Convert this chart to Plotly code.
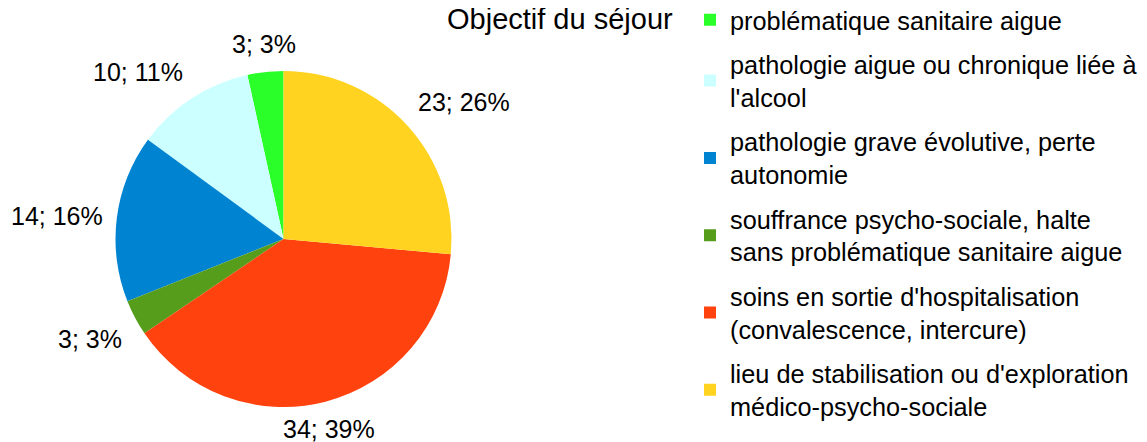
import math
import plotly.graph_objects as go

labels = [
    "problématique sanitaire aigue",
    "pathologie aigue ou chronique liée à<br>l'alcool",
    "pathologie grave évolutive, perte<br>autonomie",
    "souffrance psycho-sociale, halte<br>sans problématique sanitaire aigue",
    "soins en sortie d'hospitalisation<br>(convalescence, intercure)",
    "lieu de stabilisation ou d'exploration<br>médico-psycho-sociale",
]
values = [3, 10, 14, 3, 34, 23]
colors = ["#2aff2a", "#ccffff", "#0084d1", "#579d1c", "#ff420e", "#ffd320"]
title = "Objectif du séjour"

FONT = "Liberation Sans, Arial, sans-serif"
W, H = 1147, 442
total = sum(values)
start_rotation = -values[0] / total * 360

# pie geometry (figure pixels)
CX, CY, R = 275.5, 231.0, 168.0
dom_x = [(CX - R - 107.5) / W, (CX + R + 107.5) / W]
dom_y = [1 - (CY + R) / H, 1 - (CY - R) / H]

fig = go.Figure()
fig.add_trace(go.Pie(
    labels=labels,
    values=values,
    sort=False,
    direction="counterclockwise",
    rotation=start_rotation,
    marker=dict(colors=colors, line=dict(width=0)),
    textinfo="none",
    domain=dict(x=dom_x, y=dom_y),
    hoverinfo="label+value+percent",
    showlegend=False,
))

# legend entries (one per category, same colours as the slices)
for i, (lab, col) in enumerate(zip(labels, colors)):
    fig.add_trace(go.Scatter(
        x=[None], y=[None], mode="markers", name=lab,
        marker=dict(symbol="square", size=12, color=col),
        legendgroup=f"g{i}", showlegend=True, hoverinfo="skip",
    ))

# data labels "value; percent" placed outside each slice
annotations = []
cum = 0.0
for v in values:
    mid = -(cum + v / 2) / total * 2 * math.pi  # counterclockwise from 12 o'clock
    cum += v
    dx, dy = math.sin(mid), -math.cos(mid)
    px = CX + (R + 12) * dx
    py = CY + (R + 12) * dy
    xa = "center" if abs(dx) < 0.3 else ("left" if dx > 0 else "right")
    ya = "middle" if abs(dy) < 0.3 else ("top" if dy > 0 else "bottom")
    annotations.append(dict(
        text=f"{v}; {round(100 * v / total)}%",
        x=px / W, y=1 - py / H, xref="paper", yref="paper",
        xanchor=xa, yanchor=ya, showarrow=False,
        font=dict(size=25, family=FONT, color="#000000"),
    ))

annotations.append(dict(
    text=title, x=0.4813, y=0.9762, xref="paper", yref="paper",
    xanchor="center", yanchor="middle", showarrow=False,
    font=dict(size=29, family=FONT, color="#000000"),
))

fig.update_layout(
    width=W, height=H,
    margin=dict(l=0, r=0, t=0, b=0, autoexpand=False),
    paper_bgcolor="white",
    plot_bgcolor="white",
    font=dict(family=FONT, size=25.3, color="#000000"),
    xaxis=dict(visible=False),
    yaxis=dict(visible=False),
    legend=dict(
        x=682 / W, y=1.0253, xanchor="left", yanchor="top",
        font=dict(size=25.3, family=FONT, color="#000000"),
        bgcolor="rgba(0,0,0,0)",
        tracegroupgap=8.5,
        traceorder="grouped",
        maxheight=1000,
    ),
    annotations=annotations,
)

fig.write_html("out.html")
